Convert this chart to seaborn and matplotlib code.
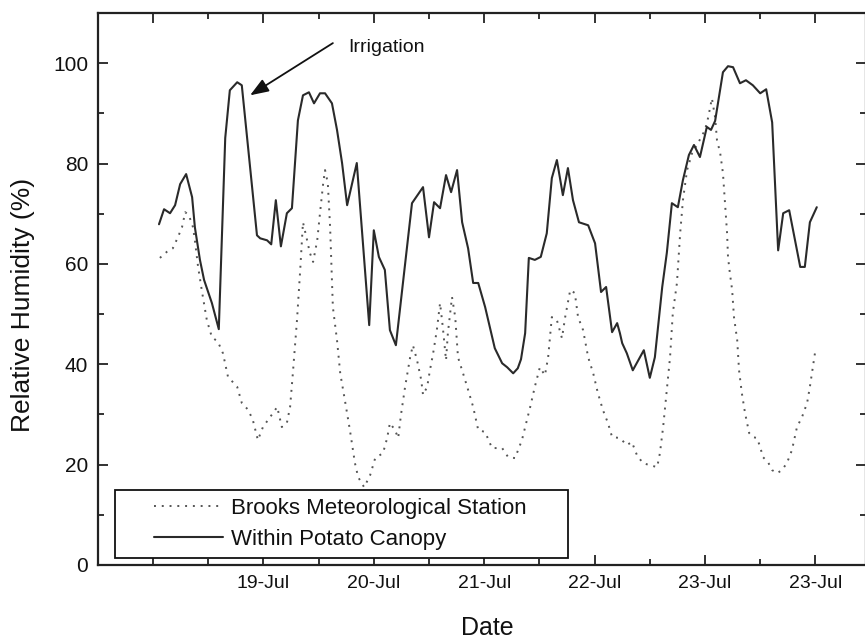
import numpy as np
import pandas as pd
import matplotlib
matplotlib.use("Agg")
import matplotlib.pyplot as plt
import seaborn as sns
from matplotlib.legend_handler import HandlerLine2D
from matplotlib.ticker import MultipleLocator

# ---------------- data (hours since 18-Jul 00:00, relative humidity %) ----------------
canopy_hours = [1.3, 2.4, 3.7, 4.8, 5.9, 7.2, 8.5, 9.1, 10.2, 11.1, 12.8, 14.3, 15.7, 16.7,
                18.3, 19.3, 22.6, 23.3, 24.8, 25.7, 26.7, 27.8, 29.1, 30.2, 31.5, 32.6, 33.9,
                35.0, 36.3, 37.4, 38.9, 40.0, 41.1, 42.2, 44.3, 47.0, 48.0, 49.1, 50.4, 51.5,
                52.8, 56.3, 58.7, 60.0, 61.1, 62.4, 63.7, 64.8, 66.1, 67.2, 68.5, 69.6, 70.7,
                72.2, 74.3, 75.9, 77.0, 78.3, 79.3, 80.0, 80.9, 81.7, 83.0, 84.3, 85.6, 86.7,
                87.8, 89.1, 90.2, 91.3, 92.6, 94.6, 96.1, 97.4, 98.5, 99.8, 100.9, 101.5,
                102.0, 103.0, 104.3, 106.7, 108.0, 109.1, 110.7, 111.7, 112.8, 114.1, 115.2,
                116.5, 117.6, 118.9, 120.4, 121.3, 122.2, 123.9, 125.0, 126.1, 127.6, 128.9,
                130.4, 132.0, 133.3, 134.6, 135.9, 137.0, 138.3, 140.7, 141.7, 142.8, 144.3]
canopy_rh = [67.9, 70.9, 70.1, 71.7, 75.9, 77.9, 73.3, 67.3, 60.8, 56.8, 52.2, 47.0, 85.1, 94.6,
             96.2, 95.6, 65.7, 65.1, 64.7, 63.9, 72.7, 63.5, 70.1, 71.1, 88.6, 93.6, 94.2,
             92.0, 94.0, 94.0, 92.0, 86.7, 80.1, 71.7, 80.1, 47.8, 66.7, 61.4, 58.8, 46.8,
             43.8, 72.1, 75.3, 65.3, 72.3, 71.1, 77.7, 74.3, 78.7, 68.3, 63.1, 56.2, 56.2,
             51.4, 43.2, 40.2, 39.4, 38.2, 39.2, 41.0, 46.2, 61.2, 60.8, 61.4, 66.1, 77.1,
             80.7, 73.7, 79.1, 72.7, 68.3, 67.7, 64.1, 54.4, 55.4, 46.4, 48.2, 46.2,
             44.2, 42.2, 38.8, 42.8, 37.3, 41.4, 55.4, 62.2, 72.1, 71.3, 76.7,
             81.7, 83.7, 81.3, 87.3, 86.7, 88.5, 98.2, 99.4, 99.2, 96.0, 96.6,
             95.6, 94.0, 94.8, 88.2, 62.7, 70.1, 70.7, 59.4, 59.4, 68.3, 71.3]

brooks_hours = [1.5, 3.0, 4.3, 5.4, 6.3, 7.0, 7.8, 8.7, 9.1, 9.8, 10.7, 11.7, 12.8, 14.1, 15.2,
                16.3, 18.3, 19.3, 20.7, 21.7, 22.8, 23.9, 25.0, 26.1, 27.0, 28.0, 29.1, 29.8,
                30.4, 31.3, 32.0, 32.6, 33.5, 34.1, 34.8, 35.7, 36.3, 37.0, 37.4, 38.0, 38.5,
                39.1, 40.0, 40.7, 41.7, 42.8, 43.9, 44.6, 45.9, 47.2, 48.3, 50.0, 50.9, 51.5,
                52.6, 53.3, 53.9, 54.8, 55.9, 56.5, 57.4, 58.3, 58.7, 59.6, 60.2, 60.9, 61.7,
                62.4, 63.0, 63.7, 64.1, 65.0, 65.7, 66.3, 67.4, 68.5, 69.6, 70.7, 72.2, 73.7,
                75.9, 77.2, 78.7, 80.2, 80.9, 82.0, 83.0, 84.1, 85.2, 85.9, 86.7, 87.8, 88.9,
                89.6, 90.7, 91.7, 92.4, 93.5, 94.6, 95.7, 96.7, 97.8, 98.9, 99.8, 101.5, 103.0,
                104.1, 105.2, 106.5, 108.0, 109.6, 110.2, 110.9, 111.7, 112.4, 113.0, 113.9,
                114.6, 115.2, 116.1, 117.2, 118.5, 120.0, 120.7, 121.5, 122.2, 122.6, 123.3,
                123.9, 124.3, 124.8, 125.0, 125.4, 125.9, 126.3, 127.0, 127.4, 128.0, 128.7,
                129.6, 130.4, 131.3, 132.0, 132.6, 133.7, 134.6, 135.7, 136.7, 137.8, 138.9,
                140.0, 141.1, 142.2, 142.8, 143.9]
brooks_rh = [61.2, 62.4, 63.1, 65.3, 67.3, 70.3, 69.7, 67.3, 64.7, 59.4, 54.2, 48.8, 45.4, 44.5,
             42.2, 37.5, 35.5, 32.3, 30.9, 28.9, 24.9, 27.5, 28.9, 30.3, 31.5, 27.5, 28.3, 31.5,
             38.2, 48.8, 58.8, 68.3, 64.7, 62.2, 60.4, 64.7, 70.1, 76.1, 78.7, 76.1, 67.3,
             51.4, 44.8, 38.2, 32.9, 26.9, 20.3, 17.5, 15.5, 17.9, 21.3, 22.3, 25.3, 28.3,
             26.9, 25.3, 29.9, 35.5, 41.4, 43.8, 40.8, 36.9, 33.9, 35.5, 38.8, 42.2, 46.8,
             52.2, 47.4, 40.8, 46.2, 53.4, 49.4, 41.4, 38.2, 34.9, 31.5, 26.9, 26.5, 23.3,
             23.3, 21.5, 21.3, 24.9, 27.5, 31.5, 35.5, 39.4, 37.8, 41.4, 49.4, 48.8, 45.2,
             49.4, 54.8, 54.2, 49.4, 46.8, 41.4, 38.2, 34.3, 30.9, 28.3, 25.5, 25.3, 23.9,
             24.5, 21.9, 20.3, 19.9, 19.5, 22.3, 27.5, 34.9, 41.4, 50.2, 56.2,
             66.1, 72.7, 78.7, 82.1, 84.1, 86.7, 89.2, 93.0, 89.2, 84.7, 82.1,
             78.1, 72.7, 66.1, 61.4, 58.2, 54.8, 49.4, 44.8, 38.8, 34.3, 30.3,
             26.3, 25.5, 25.3, 23.5, 21.5, 20.5, 18.9, 18.3, 18.9, 20.3, 22.9,
             27.5, 29.5, 32.3, 35.5, 42.2]

tick_hours = [0, 24, 48, 72, 96, 120, 144]
tick_labels = ["", "19-Jul", "20-Jul", "21-Jul", "22-Jul", "23-Jul", "23-Jul"]
series_names = ["Brooks Meteorological Station", "Within Potato Canopy"]

# ---------------- styling ----------------
sns.set_style("ticks")
plt.rcParams["font.family"] = ["Liberation Sans", "DejaVu Sans"]
plt.rcParams["text.color"] = "#111111"
plt.rcParams["axes.labelcolor"] = "#111111"

fig = plt.figure(figsize=(8.65, 6.43), dpi=100)
ax = fig.add_axes([98 / 865, 1 - 565 / 643, (866 - 98) / 865, (565 - 13) / 643])

df_b = pd.DataFrame({"hour": brooks_hours, "rh": brooks_rh})
df_c = pd.DataFrame({"hour": canopy_hours, "rh": canopy_rh})

sns.lineplot(data=df_b, x="hour", y="rh", ax=ax, color="#555555", linewidth=1.4,
             linestyle=(0, (1, 3)), errorbar=None, label=series_names[0])
sns.lineplot(data=df_c, x="hour", y="rh", ax=ax, color="#2a2a2a", linewidth=1.5,
             errorbar=None, label=series_names[1])

ax.set_xlim(-11.96, 155.0)
ax.set_ylim(0, 110)
ax.set_xticks(tick_hours)
ax.set_xticklabels(tick_labels)
ax.xaxis.set_minor_locator(MultipleLocator(12))
ax.set_yticks([0, 20, 40, 60, 80, 100])
ax.yaxis.set_minor_locator(MultipleLocator(10))

ax.tick_params(which="both", direction="in", top=True, right=True, width=1.3,
               color="#222222", labelcolor="#111111")
ax.tick_params(which="major", length=7)
ax.tick_params(which="minor", length=4)
ax.tick_params(axis="x", which="major", labelsize=14, pad=7)
ax.tick_params(axis="y", which="major", labelsize=15, pad=7)
for s in ax.spines.values():
    s.set_linewidth(1.6)
    s.set_color("#222222")
    s.set_visible(True)

ax.set_xlabel("Date", fontsize=18)
ax.set_ylabel("Relative Humidity (%)", fontsize=19)
ax.xaxis.set_label_coords(0.5065, -0.092)
ax.yaxis.set_label_coords(-0.082, 0.471)

# annotation
ax.annotate("", xy=(21.1, 93.6), xytext=(39.1, 104.0),
            arrowprops=dict(arrowstyle="-|>,head_length=0.8,head_width=0.3",
                            color="#111111", lw=1.3, mutation_scale=14,
                            shrinkA=0, shrinkB=0))
ax.text(42.4, 103.2, "Irrigation", fontsize=14, ha="left", va="center", color="#111111")


# legend
class OffsetLineHandler(HandlerLine2D):
    def __init__(self, start_frac=0.31, **kw):
        super().__init__(**kw)
        self.start_frac = start_frac

    def get_xdata(self, legend, xdescent, ydescent, width, height, fontsize):
        x0 = -xdescent + width * self.start_frac
        x1 = -xdescent + width
        return np.array([x0, x1]), np.array([(x0 + x1) / 2])


handles = ax.get_lines()[:2]
leg = ax.legend(handles, series_names, loc="lower left",
                bbox_to_anchor=(0.0221, 0.0127, 0.590, 0.127), mode="expand",
                borderaxespad=0, fontsize=16, handlelength=4.46, handletextpad=0.36,
                labelspacing=0.42, borderpad=0.38, fancybox=False, framealpha=1,
                edgecolor="#111111",
                handler_map={h: OffsetLineHandler() for h in handles})
leg.get_frame().set_linewidth(1.3)

fig.savefig("out.png", dpi=100)
